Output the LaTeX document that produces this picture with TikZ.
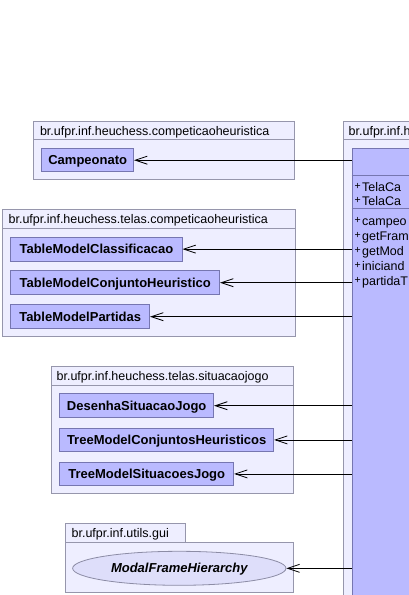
\documentclass[tikz,border=0pt]{standalone}
\usepackage{fontspec}
\setmainfont{Liberation Sans}
\usetikzlibrary{arrows.meta,shapes.geometric}
\definecolor{pkgfill}{RGB}{238,238,255}
\definecolor{pkgdraw}{RGB}{150,150,172}
\definecolor{clsfill}{RGB}{186,186,255}
\definecolor{clsdraw}{RGB}{118,118,176}
\definecolor{ellfill}{RGB}{222,222,250}
\definecolor{elldraw}{RGB}{140,140,165}
\newcommand{\umlplus}{\makebox[7.5pt][l]{\raisebox{2pt}{\fontsize{10.5}{10.5}\selectfont +}}}
\begin{document}
\begin{tikzpicture}[x=1pt,y=-1pt,
  pkg/.style={draw=pkgdraw,fill=pkgfill,line width=0.8pt},
  pkgline/.style={draw=pkgdraw,line width=0.8pt},
  pkglabel/.style={anchor=west,inner sep=0pt,font=\fontsize{12.5}{15}\selectfont,text height=9pt,text depth=0pt},
  cls/.style={draw=clsdraw,fill=clsfill,line width=0.8pt,anchor=north west,inner sep=0pt,minimum height=24pt,text height=9pt,text depth=0pt,font=\fontsize{13}{15}\selectfont\bfseries},
  clsline/.style={draw=clsdraw,line width=0.8pt},
  member/.style={anchor=west,inner sep=0pt,font=\fontsize{12.5}{15}\selectfont,text height=9pt,text depth=0pt},
  dep/.style={draw=black,line width=0.8pt,-{Straight Barb[length=12pt,width=8pt,line width=0.8pt]}}
]
\clip (0,0) rectangle (409,595);
\fill[white] (0,0) rectangle (409,595);

% right package and main class
\draw[pkg] (343.3,121.7) rectangle (440,620);
\draw[pkgline] (343.3,139.3) -- (440,139.3);
\node[pkglabel] (lmain) at (348.5,130.5) {br.ufpr.inf.h};
\node[cls,minimum width=120pt,minimum height=500pt] (main) at (351.7,148.3) {};
\draw[clsline] (351.7,175) -- (440,175);
\draw[clsline] (351.7,208.5) -- (440,208.5);
\node[member] (a1) at (354.5,186.5) {\umlplus TelaCa};
\node[member] (a2) at (354.5,201) {\umlplus TelaCa};
\node[member] (m1) at (354.5,221) {\umlplus campeo};
\node[member] (m2) at (354.5,236) {\umlplus getFram};
\node[member] (m3) at (354.5,251) {\umlplus getMod};
\node[member] (m4) at (354.5,266) {\umlplus iniciand};
\node[member] (m5) at (354.5,281) {\umlplus partidaT};

% package 1
\draw[pkg] (33.3,121.7) rectangle (294.7,179);
\draw[pkgline] (33.3,139.3) -- (294.7,139.3);
\node[pkglabel] (l1) at (39.8,130.5) {br.ufpr.inf.heuchess.competicaoheuristica};
\node[cls,minimum width=92pt,minimum height=23pt] (camp) at (41.3,148.3) {Campeonato};

% package 2
\draw[pkg] (2.3,209.3) rectangle (295.3,336.7);
\draw[pkgline] (2.3,228.3) -- (295.3,228.3);
\node[pkglabel] (l2) at (8.4,218.8) {br.ufpr.inf.heuchess.telas.competicaoheuristica};
\node[cls,minimum width=171.4pt] (tmc) at (10.3,236.7) {TableModelClassificacao};
\node[cls,minimum width=209pt] (tmch) at (10.3,270.3) {TableModelConjuntoHeuristico};
\node[cls,minimum width=139pt] (tmp) at (10.3,304.3) {TableModelPartidas};

% package 3
\draw[pkg] (51.3,366.7) rectangle (293.3,493.3);
\draw[pkgline] (51.3,385.3) -- (293.3,385.3);
\node[pkglabel] (l3) at (56.4,376) {br.ufpr.inf.heuchess.telas.situacaojogo};
\node[cls,minimum width=154pt] (dsj) at (59.3,393.3) {DesenhaSituacaoJogo};
\node[cls,minimum width=214pt,minimum height=23.6pt] (tmch2) at (59.3,427.7) {TreeModelConjuntosHeuristicos};
\node[cls,minimum width=174pt,minimum height=23.6pt] (tmsj) at (59.3,461.7) {TreeModelSituacoesJogo};

% package 4
\draw[pkg] (65.7,523.3) rectangle (185.3,542);
\draw[pkg] (65.7,542) rectangle (293.3,592.3);
\node[pkglabel] (l4) at (71.4,532.7) {br.ufpr.inf.utils.gui};
\node[ellipse,draw=elldraw,fill=ellfill,line width=0.8pt,minimum width=213.3pt,minimum height=34pt,inner sep=0pt,text height=9pt,text depth=0pt,font=\fontsize{13}{15}\selectfont\bfseries\itshape] (mfh) at (179.3,568.3) {ModalFrameHierarchy};

% dependencies
\draw[dep] (main.west |- camp.east) -- (camp.east);
\draw[dep] (main.west |- tmc.east) -- (tmc.east);
\draw[dep] (main.west |- tmch.east) -- (tmch.east);
\draw[dep] (main.west |- tmp.east) -- (tmp.east);
\draw[dep] (main.west |- dsj.east) -- (dsj.east);
\draw[dep] (main.west |- tmch2.east) -- (tmch2.east);
\draw[dep] (main.west |- tmsj.east) -- (tmsj.east);
\draw[dep] (main.west |- mfh.east) -- (mfh.east);
\end{tikzpicture}
\end{document}
